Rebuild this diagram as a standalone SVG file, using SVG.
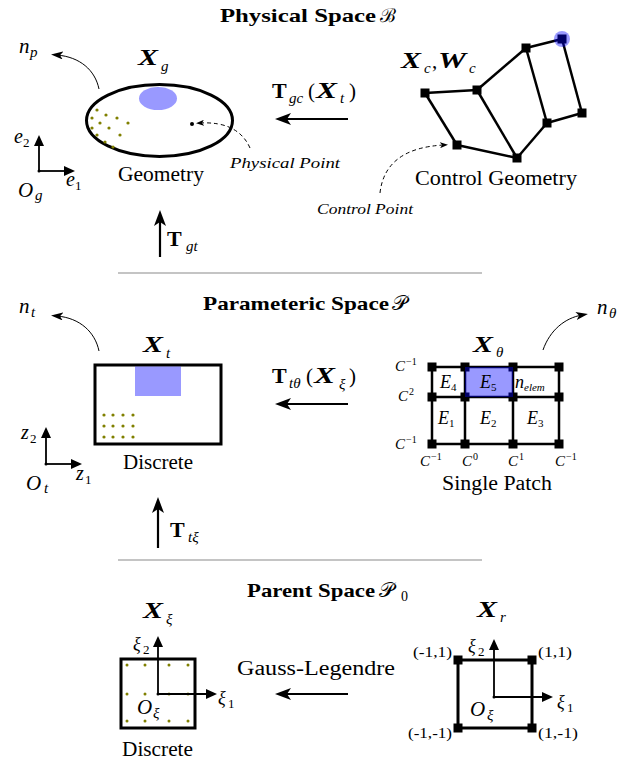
<svg xmlns="http://www.w3.org/2000/svg" width="617" height="761" viewBox="0 0 617 761">
<style>
text { font-family: "Liberation Serif", "DejaVu Serif", serif; fill: #000; }
.ttl { font-weight: bold; font-size: 19px; }
.X { font-weight: bold; font-style: italic; font-size: 23px; }
.bt { font-weight: bold; font-size: 22px; }
.m { font-style: italic; }
.sub { font-style: italic; font-size: 15px; }
.subn { font-size: 13px; }
.lbl { font-size: 20px; }
.sm { font-size: 15px; }
.frame { fill: none; stroke: #000; stroke-width: 3; }
.edge { stroke: #000; stroke-width: 2.5; fill: none; }
.arrow { stroke: #000; stroke-width: 2.2; fill: none; }
.axis { stroke: #000; stroke-width: 1.8; fill: none; }
.thin { stroke: #000; stroke-width: 1; fill: none; }
.dash { stroke: #000; stroke-width: 1; fill: none; stroke-dasharray: 4 3; }
.dot { fill: #808000; }
.blue { fill: #0000ff; fill-opacity: 0.4; }
.sep { stroke: #b0b0b0; stroke-width: 1.5; }
</style>
<defs>
<marker id="big" viewBox="0 0 16 12" refX="8" refY="6" markerWidth="16" markerHeight="12" markerUnits="userSpaceOnUse" orient="auto">
<path d="M0,0 L16,6 L0,12 L4,6 Z" fill="#000"/>
</marker>
<marker id="ax" viewBox="0 0 11 10" refX="5" refY="5" markerWidth="11" markerHeight="10" markerUnits="userSpaceOnUse" orient="auto">
<path d="M0,0 L11,5 L0,10 Z" fill="#000"/>
</marker>
<marker id="thinA" viewBox="0 0 12 8" refX="6" refY="4" markerWidth="12" markerHeight="8" markerUnits="userSpaceOnUse" orient="auto">
<path d="M0,0 L12,4 L0,8 L3,4 Z" fill="#000"/>
</marker>
<marker id="dashA" viewBox="0 0 8 6" refX="4" refY="3" markerWidth="8" markerHeight="6" markerUnits="userSpaceOnUse" orient="auto">
<path d="M0,0 L8,3 L0,6 L2,3 Z" fill="#000"/>
</marker>
<rect id="sq" x="-4.5" y="-4.5" width="9" height="9" fill="#000"/>
</defs>

<g id="titles">
<text class="ttl" x="220" y="22" textLength="156" lengthAdjust="spacingAndGlyphs">Physical Space</text>
<text x="380" y="22" style="font-size:19px">ℬ</text>
<text class="ttl" x="203" y="310" textLength="186" lengthAdjust="spacingAndGlyphs">Parameteric Space</text>
<text x="392" y="310" style="font-size:21px">𝒫</text>
<text class="ttl" x="247" y="597" textLength="128" lengthAdjust="spacingAndGlyphs">Parent Space</text>
<text x="379" y="597" style="font-size:21px">𝒫</text>
<text class="subn" x="401" y="601" style="font-size:14px">0</text>
</g>

<g id="separators">
<line class="sep" x1="118" y1="273" x2="482" y2="273"/>
<line class="sep" x1="118" y1="560" x2="482" y2="560"/>
</g>

<g id="physical-geometry">
<ellipse class="frame" cx="159.5" cy="120.5" rx="73" ry="36"/>
<ellipse class="blue" cx="158" cy="98.5" rx="19" ry="11.5"/>
<g class="dot">
<circle cx="97" cy="110" r="1.6"/><circle cx="106" cy="115" r="1.6"/><circle cx="117" cy="118" r="1.6"/><circle cx="128" cy="123" r="1.6"/>
<circle cx="92" cy="118" r="1.6"/><circle cx="100" cy="123" r="1.6"/><circle cx="109" cy="128" r="1.6"/><circle cx="120" cy="135" r="1.6"/>
<circle cx="92" cy="128" r="1.6"/><circle cx="97" cy="135" r="1.6"/><circle cx="105" cy="142" r="1.6"/><circle cx="113" cy="147" r="1.6"/>
</g>
<circle cx="192" cy="124" r="2" fill="#000"/>
<text class="X" x="138" y="65" textLength="20" lengthAdjust="spacingAndGlyphs">X</text>
<text class="sub" x="161" y="71">g</text>
<text class="lbl" x="118" y="181" textLength="86" lengthAdjust="spacingAndGlyphs">Geometry</text>
<text class="m" x="230" y="168" style="font-size:15px" textLength="110" lengthAdjust="spacingAndGlyphs">Physical Point</text>
<text class="m" x="19" y="53" style="font-size:21px">n</text>
<text class="sub" x="30" y="57">p</text>
<text class="m" x="14" y="143" style="font-size:20px">e</text>
<text class="subn" x="23" y="147">2</text>
<text class="m" x="66" y="186" style="font-size:20px">e</text>
<text class="subn" x="75" y="190">1</text>
<text class="m" x="18" y="197" style="font-size:21px">O</text>
<text class="sub" x="35" y="200">g</text>
</g>

<g id="control-geometry">
<g class="edge">
<line x1="425" y1="93" x2="477" y2="90"/>
<line x1="477" y1="90" x2="526" y2="48"/>
<line x1="526" y1="48" x2="562" y2="39"/>
<line x1="425" y1="93" x2="457" y2="145"/>
<line x1="457" y1="145" x2="517" y2="158"/>
<line x1="477" y1="90" x2="517" y2="158"/>
<line x1="517" y1="158" x2="547" y2="123"/>
<line x1="526" y1="48" x2="547" y2="123"/>
<line x1="547" y1="123" x2="582" y2="113"/>
<line x1="562" y1="39" x2="582" y2="113"/>
</g>
<use href="#sq" x="425" y="93"/>
<use href="#sq" x="477" y="90"/>
<use href="#sq" x="526" y="48"/>
<use href="#sq" x="562" y="39"/>
<use href="#sq" x="457" y="145"/>
<use href="#sq" x="517" y="158"/>
<use href="#sq" x="547" y="123"/>
<use href="#sq" x="582" y="113"/>
<circle class="blue" cx="562" cy="39" r="8"/>
<text class="X" x="401" y="68" textLength="20" lengthAdjust="spacingAndGlyphs">X</text>
<text class="sub" x="424" y="73">c</text>
<text x="432" y="68" style="font-size:21px">,</text>
<text class="X" x="438" y="68" textLength="28" lengthAdjust="spacingAndGlyphs">W</text>
<text class="sub" x="469" y="73">c</text>
<text class="lbl" x="415" y="185" textLength="162" lengthAdjust="spacingAndGlyphs">Control Geometry</text>
<text class="m" x="317" y="214" style="font-size:15px" textLength="96" lengthAdjust="spacingAndGlyphs">Control Point</text>
</g>

<g id="parametric-discrete">
<rect class="frame" x="95" y="365" width="126" height="79"/>
<rect class="blue" x="135" y="366.5" width="46" height="29.5"/>
<g class="dot">
<circle cx="104" cy="415" r="1.6"/><circle cx="113" cy="415" r="1.6"/><circle cx="123" cy="415" r="1.6"/><circle cx="133" cy="415" r="1.6"/>
<circle cx="104" cy="426" r="1.6"/><circle cx="113" cy="426" r="1.6"/><circle cx="123" cy="426" r="1.6"/><circle cx="133" cy="426" r="1.6"/>
<circle cx="104" cy="437" r="1.6"/><circle cx="113" cy="437" r="1.6"/><circle cx="123" cy="437" r="1.6"/><circle cx="133" cy="437" r="1.6"/>
</g>
<text class="X" x="143" y="352" textLength="20" lengthAdjust="spacingAndGlyphs">X</text>
<text class="sub" x="166" y="358">t</text>
<text class="lbl" x="123" y="469" textLength="70" lengthAdjust="spacingAndGlyphs">Discrete</text>
<text class="m" x="19" y="313" style="font-size:21px">n</text>
<text class="sub" x="31" y="317">t</text>
<text class="m" x="21" y="439" style="font-size:20px">z</text>
<text class="subn" x="30" y="443">2</text>
<text class="m" x="76" y="480" style="font-size:20px">z</text>
<text class="subn" x="85" y="484">1</text>
<text class="m" x="26" y="490" style="font-size:21px">O</text>
<text class="sub" x="44" y="493">t</text>
</g>

<g id="single-patch">
<g class="edge">
<line x1="432" y1="367" x2="559" y2="367"/>
<line x1="432" y1="397" x2="559" y2="397"/>
<line x1="432" y1="444" x2="559" y2="444"/>
<line x1="432" y1="367" x2="432" y2="444"/>
<line x1="465" y1="367" x2="465" y2="444"/>
<line x1="513" y1="367" x2="513" y2="444"/>
<line x1="559" y1="367" x2="559" y2="444"/>
</g>
<use href="#sq" x="432" y="367"/><use href="#sq" x="465" y="367"/><use href="#sq" x="513" y="367"/><use href="#sq" x="559" y="367"/>
<use href="#sq" x="432" y="397"/><use href="#sq" x="465" y="397"/><use href="#sq" x="513" y="397"/><use href="#sq" x="559" y="397"/>
<use href="#sq" x="432" y="444"/><use href="#sq" x="465" y="444"/><use href="#sq" x="513" y="444"/><use href="#sq" x="559" y="444"/>
<rect class="blue" x="465" y="367" width="48" height="30"/>
<text class="m" x="440" y="388" style="font-size:18px">E</text><text class="subn" x="451" y="391" style="font-size:11px">4</text>
<text class="m" x="480" y="388" style="font-size:18px">E</text><text class="subn" x="491" y="391" style="font-size:11px">5</text>
<text class="m" x="515" y="388" style="font-size:18px">n</text><text class="m" x="524" y="391" style="font-size:11px">elem</text>
<text class="m" x="438" y="424" style="font-size:18px">E</text><text class="subn" x="449" y="427" style="font-size:11px">1</text>
<text class="m" x="480" y="424" style="font-size:18px">E</text><text class="subn" x="491" y="427" style="font-size:11px">2</text>
<text class="m" x="527" y="424" style="font-size:18px">E</text><text class="subn" x="538" y="427" style="font-size:11px">3</text>
<text class="m" x="395" y="371" style="font-size:15px">C</text><text class="subn" x="406" y="365" style="font-size:10px">−1</text>
<text class="m" x="398" y="401" style="font-size:15px">C</text><text class="subn" x="409" y="395" style="font-size:10px">2</text>
<text class="m" x="395" y="449" style="font-size:15px">C</text><text class="subn" x="406" y="443" style="font-size:10px">−1</text>
<text class="m" x="420" y="466" style="font-size:15px">C</text><text class="subn" x="431" y="460" style="font-size:10px">−1</text>
<text class="m" x="462" y="466" style="font-size:15px">C</text><text class="subn" x="473" y="460" style="font-size:10px">0</text>
<text class="m" x="508" y="466" style="font-size:15px">C</text><text class="subn" x="519" y="460" style="font-size:10px">1</text>
<text class="m" x="555" y="466" style="font-size:15px">C</text><text class="subn" x="566" y="460" style="font-size:10px">−1</text>
<text class="X" x="473" y="352" textLength="20" lengthAdjust="spacingAndGlyphs">X</text>
<text class="sub" x="496" y="357">θ</text>
<text class="lbl" x="442" y="490" textLength="110" lengthAdjust="spacingAndGlyphs">Single Patch</text>
<text class="m" x="597" y="314" style="font-size:21px">n</text>
<text class="sub" x="609" y="318">θ</text>
</g>

<g id="parent-discrete">
<rect class="frame" x="121" y="659" width="74" height="69"/>
<g class="dot">
<circle cx="127" cy="665" r="1.5"/><circle cx="145" cy="665" r="1.5"/><circle cx="169" cy="665" r="1.5"/><circle cx="188" cy="665" r="1.5"/>
<circle cx="127" cy="694" r="1.5"/><circle cx="145" cy="694" r="1.5"/><circle cx="169" cy="694" r="1.5"/><circle cx="188" cy="694" r="1.5"/>
<circle cx="127" cy="721" r="1.5"/><circle cx="145" cy="721" r="1.5"/><circle cx="169" cy="721" r="1.5"/><circle cx="188" cy="721" r="1.5"/>
</g>
<circle cx="158" cy="694" r="1.5" fill="#000"/>
<text class="X" x="143" y="618" textLength="20" lengthAdjust="spacingAndGlyphs">X</text>
<text class="sub" x="166" y="624">ξ</text>
<text class="m" x="133" y="650" style="font-size:18px">ξ</text>
<text class="subn" x="143" y="654">2</text>
<text class="m" x="218" y="704" style="font-size:18px">ξ</text>
<text class="subn" x="228" y="708">1</text>
<text class="m" x="137" y="714" style="font-size:21px">O</text>
<text class="sub" x="153" y="718">ξ</text>
<text class="lbl" x="122" y="756" textLength="71" lengthAdjust="spacingAndGlyphs">Discrete</text>
</g>

<g id="reference-element">
<rect class="frame" x="458" y="660" width="74" height="68"/>
<use href="#sq" x="458" y="660"/><use href="#sq" x="532" y="660"/>
<use href="#sq" x="458" y="728"/><use href="#sq" x="532" y="728"/>
<circle cx="494" cy="697" r="1.5" fill="#000"/>
<text class="X" x="477" y="617" textLength="20" lengthAdjust="spacingAndGlyphs">X</text>
<text class="sub" x="500" y="622">r</text>
<text class="m" x="468" y="652" style="font-size:18px">ξ</text>
<text class="subn" x="478" y="656">2</text>
<text class="m" x="557" y="708" style="font-size:18px">ξ</text>
<text class="subn" x="567" y="712">1</text>
<text class="m" x="470" y="716" style="font-size:21px">O</text>
<text class="sub" x="487" y="720">ξ</text>
<text class="sm" x="413" y="657" textLength="39" lengthAdjust="spacingAndGlyphs">(-1,1)</text>
<text class="sm" x="538" y="657" textLength="34" lengthAdjust="spacingAndGlyphs">(1,1)</text>
<text class="sm" x="408" y="738" textLength="44" lengthAdjust="spacingAndGlyphs">(-1,-1)</text>
<text class="sm" x="538" y="738" textLength="40" lengthAdjust="spacingAndGlyphs">(1,-1)</text>
</g>

<g id="connectors">
<line class="arrow" x1="348" y1="119" x2="283" y2="119" marker-end="url(#big)"/>
<line class="arrow" x1="348" y1="404" x2="283" y2="404" marker-end="url(#big)"/>
<line class="arrow" x1="348" y1="694" x2="283" y2="694" marker-end="url(#big)"/>
<line class="arrow" x1="160" y1="257" x2="160" y2="218" marker-end="url(#big)"/>
<line class="arrow" x1="158" y1="548" x2="158" y2="505" marker-end="url(#big)"/>
<line class="axis" x1="39" y1="171" x2="39" y2="141" marker-end="url(#ax)"/>
<line class="axis" x1="39" y1="171" x2="69" y2="171" marker-end="url(#ax)"/>
<line class="axis" x1="46" y1="464" x2="46" y2="433" marker-end="url(#ax)"/>
<line class="axis" x1="46" y1="464" x2="76" y2="464" marker-end="url(#ax)"/>
<line class="axis" x1="158" y1="694" x2="158" y2="642" marker-end="url(#ax)"/>
<line class="axis" x1="158" y1="694" x2="211" y2="694" marker-end="url(#ax)"/>
<line class="axis" x1="494" y1="697" x2="494" y2="645" marker-end="url(#ax)"/>
<line class="axis" x1="494" y1="697" x2="547" y2="697" marker-end="url(#ax)"/>
<path class="thin" d="M99,89 C95,70 80,57 57,55" marker-end="url(#thinA)"/>
<path class="thin" d="M99,351 C95,332 80,318 57,316" marker-end="url(#thinA)"/>
<path class="thin" d="M543,350 C550,330 565,318 582,315" marker-end="url(#thinA)"/>
<path class="dash" d="M250,148 Q238,121 200,123" marker-end="url(#dashA)"/>
<path class="dash" d="M380,193 Q385,148 444,145" marker-end="url(#dashA)"/>
<circle cx="39" cy="171" r="1.5" fill="#000"/>
<circle cx="46" cy="464" r="1.5" fill="#000"/>
</g>

<g id="arrow-labels">
<text class="bt" x="272" y="98">T</text><text class="sub" x="289" y="103">gc</text>
<text class="lbl" x="308" y="98" style="font-size:21px">(</text><text class="X" x="316" y="98" textLength="21" lengthAdjust="spacingAndGlyphs">X</text><text class="sub" x="340" y="103">t</text><text class="lbl" x="349" y="98" style="font-size:21px">)</text>
<text class="bt" x="272" y="383">T</text><text class="sub" x="289" y="388">tθ</text>
<text class="lbl" x="306" y="383" style="font-size:21px">(</text><text class="X" x="314" y="383" textLength="21" lengthAdjust="spacingAndGlyphs">X</text><text class="sub" x="339" y="389">ξ</text><text class="lbl" x="349" y="383" style="font-size:21px">)</text>
<text class="bt" x="167" y="246">T</text><text class="sub" x="186" y="251">gt</text>
<text class="bt" x="170" y="537">T</text><text class="sub" x="188" y="542">tξ</text>
<text class="lbl" x="237" y="675" textLength="158" lengthAdjust="spacingAndGlyphs">Gauss-Legendre</text>
</g>
</svg>
